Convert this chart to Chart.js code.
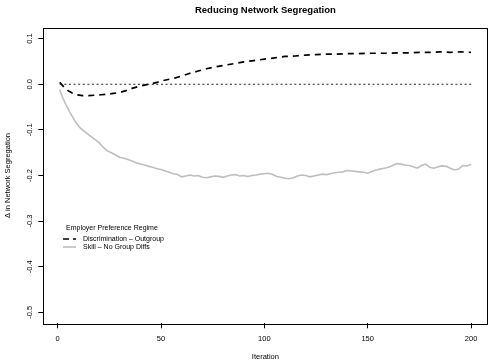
<!DOCTYPE html>
<html>
<head>
<meta charset="utf-8">
<script src="https://cdn.jsdelivr.net/npm/chart.js@4/dist/chart.umd.min.js"></script>
<style>
  html, body { margin: 0; padding: 0; background: #fff; }
  #wrap { width: 491px; height: 364px; position: relative; }
</style>
</head>
<body>
<div id="wrap"><canvas id="c" width="491" height="364"></canvas></div>
<script>
// ---- data ----
const chartTitle = "Reducing Network Segregation";
const xTitle = "Iteration";
const yTitle = "Δ in Network Segregation";
const legendTitle = "Employer Preference Regime";
const seriesNames = ["Discrimination – Outgroup", "Skill – No Group Diffs"];

const xTicks = [0, 50, 100, 150, 200];
const yTicks = [-0.5, -0.4, -0.3, -0.2, -0.1, 0.0, 0.1];
const yTickLabels = ["-0.5", "-0.4", "-0.3", "-0.2", "-0.1", "0.0", "0.1"];

const discIter = [1,3,5,7,9,12,15,18,21,24,27,30,33,36,39,42,45,48,51,54,57,60,64,68,72,76,80,85,90,95,100,105,110,115,120,125,130,135,140,145,150,155,160,165,170,175,180,185,190,195,200];
const discVals = [0.004,-0.006,-0.014,-0.019,-0.023,-0.025,-0.025,-0.024,-0.023,-0.022,-0.020,-0.018,-0.014,-0.009,-0.005,-0.002,0.001,0.004,0.008,0.011,0.014,0.018,0.024,0.029,0.034,0.038,0.041,0.045,0.049,0.052,0.055,0.058,0.061,0.062,0.064,0.065,0.066,0.066,0.067,0.067,0.068,0.068,0.068,0.069,0.069,0.070,0.070,0.071,0.070,0.071,0.070];

const skillIter = [1,2,3,4,5,6,7,8,9,10,11,12,14,16,18,20,22,24,26,28,30,32,34,36,38,40,42,44,46,48,50,52,54,56,58,60,62,64,66,68,70,72,74,76,78,80,82,84,86,88,90,92,94,96,98,100,102,104,106,108,110,112,114,116,118,120,122,124,126,128,130,132,134,136,138,140,142,144,146,148,150,152,154,156,158,160,162,164,166,168,170,172,174,176,178,180,182,184,186,188,190,192,194,196,198,200];
const skillVals = [-0.012,-0.025,-0.035,-0.045,-0.053,-0.062,-0.070,-0.078,-0.085,-0.091,-0.096,-0.100,-0.107,-0.114,-0.121,-0.128,-0.138,-0.146,-0.150,-0.155,-0.160,-0.162,-0.165,-0.168,-0.172,-0.175,-0.177,-0.180,-0.182,-0.185,-0.187,-0.190,-0.193,-0.196,-0.198,-0.203,-0.201,-0.199,-0.201,-0.200,-0.204,-0.205,-0.203,-0.201,-0.202,-0.204,-0.201,-0.199,-0.198,-0.201,-0.200,-0.202,-0.200,-0.199,-0.197,-0.196,-0.195,-0.198,-0.202,-0.204,-0.206,-0.207,-0.205,-0.201,-0.199,-0.200,-0.203,-0.201,-0.199,-0.197,-0.198,-0.196,-0.194,-0.193,-0.192,-0.189,-0.190,-0.191,-0.192,-0.193,-0.195,-0.191,-0.188,-0.186,-0.184,-0.182,-0.178,-0.174,-0.175,-0.177,-0.178,-0.181,-0.184,-0.178,-0.175,-0.182,-0.184,-0.181,-0.179,-0.180,-0.184,-0.188,-0.186,-0.178,-0.179,-0.176];

const refIter = [1, 200];
const refVals = [0, 0];

// ---- build ----
const pts = (xs, ys) => xs.map((x, i) => ({x: x, y: ys[i]}));
const FONT = "'Liberation Sans', Arial, Helvetica, sans-serif";

const decor = {
  id: 'decor',
  afterDraw(chart) {
    const ctx = chart.ctx;
    const a = chart.chartArea;
    ctx.save();
    // box
    ctx.strokeStyle = '#000';
    ctx.lineWidth = 1;
    ctx.setLineDash([]);
    ctx.strokeRect(Math.round(a.left) + 0.5, Math.round(a.top) + 0.5,
                   Math.round(a.right - a.left), Math.round(a.bottom - a.top));
    // title
    ctx.fillStyle = '#000';
    ctx.font = "bold 9.5px " + FONT;
    ctx.textAlign = 'center';
    ctx.textBaseline = 'middle';
    ctx.fillText(chartTitle, (a.left + a.right) / 2, 10.5);
    // legend
    const lx = 63, ly = 228;
    ctx.font = "7px " + FONT;
    ctx.textAlign = 'left';
    ctx.fillText(legendTitle, lx + 3, ly);
    const rows = [
      {y: ly + 11, color: '#000', width: 1.7, dash: [6, 4]},
      {y: ly + 19, color: '#bebebe', width: 1.6, dash: []}
    ];
    rows.forEach((r, i) => {
      ctx.beginPath();
      ctx.strokeStyle = r.color;
      ctx.lineWidth = r.width;
      ctx.setLineDash(r.dash);
      ctx.moveTo(lx, r.y);
      ctx.lineTo(lx + 13, r.y);
      ctx.stroke();
      ctx.setLineDash([]);
      ctx.fillStyle = '#000';
      ctx.fillText(seriesNames[i], lx + 20, r.y);
    });
    ctx.restore();
  }
};

new Chart(document.getElementById('c'), {
  type: 'line',
  data: {
    datasets: [
      {
        label: 'ref',
        data: pts(refIter, refVals),
        borderColor: '#222',
        borderWidth: 1,
        borderDash: [2, 2.6],
        pointRadius: 0,
        tension: 0
      },
      {
        label: seriesNames[0],
        data: pts(discIter, discVals),
        borderColor: '#000',
        borderWidth: 1.7,
        borderDash: [6, 5],
        pointRadius: 0,
        tension: 0
      },
      {
        label: seriesNames[1],
        data: pts(skillIter, skillVals),
        borderColor: '#bebebe',
        borderWidth: 1.6,
        pointRadius: 0,
        tension: 0
      }
    ]
  },
  options: {
    responsive: false,
    animation: false,
    devicePixelRatio: 1,
    layout: { padding: { top: 27.7, right: 3.5, left: 0, bottom: 0 } },
    plugins: {
      legend: { display: false },
      title: { display: false },
      tooltip: { enabled: false }
    },
    scales: {
      x: {
        type: 'linear',
        min: -6.96,
        max: 207.96,
        afterBuildTicks: s => { s.ticks = xTicks.map(v => ({value: v})); },
        afterFit: s => { s.height = 40.7; },
        grid: { display: true, drawOnChartArea: false, drawTicks: true, tickLength: 5, color: '#000', lineWidth: 1 },
        border: { display: false },
        ticks: { color: '#000', font: { family: FONT, size: 7.5 }, padding: 6, maxRotation: 0, minRotation: 0,
                 callback: v => String(v) },
        title: { display: true, text: xTitle, color: '#000', font: { family: FONT, size: 7.5 }, padding: { top: 0, bottom: 3 } }
      },
      y: {
        type: 'linear',
        min: -0.524,
        max: 0.124,
        afterBuildTicks: s => { s.ticks = yTicks.map(v => ({value: v})); },
        afterFit: s => { s.width = 43.3; },
        grid: { display: true, drawOnChartArea: false, drawTicks: true, tickLength: 5, color: '#000', lineWidth: 1 },
        border: { display: false },
        ticks: { color: '#000', font: { family: FONT, size: 7.5 }, padding: 2, minRotation: 90, maxRotation: 90,
                 crossAlign: 'center',
                 callback: (v) => { const i = yTicks.findIndex(t => Math.abs(t - v) < 1e-9); return i >= 0 ? yTickLabels[i] : ''; } },
        title: { display: true, text: yTitle, color: '#000', font: { family: FONT, size: 7.5 }, padding: { top: 3, bottom: 0 } }
      }
    }
  },
  plugins: [decor]
});
</script>
</body>
</html>
